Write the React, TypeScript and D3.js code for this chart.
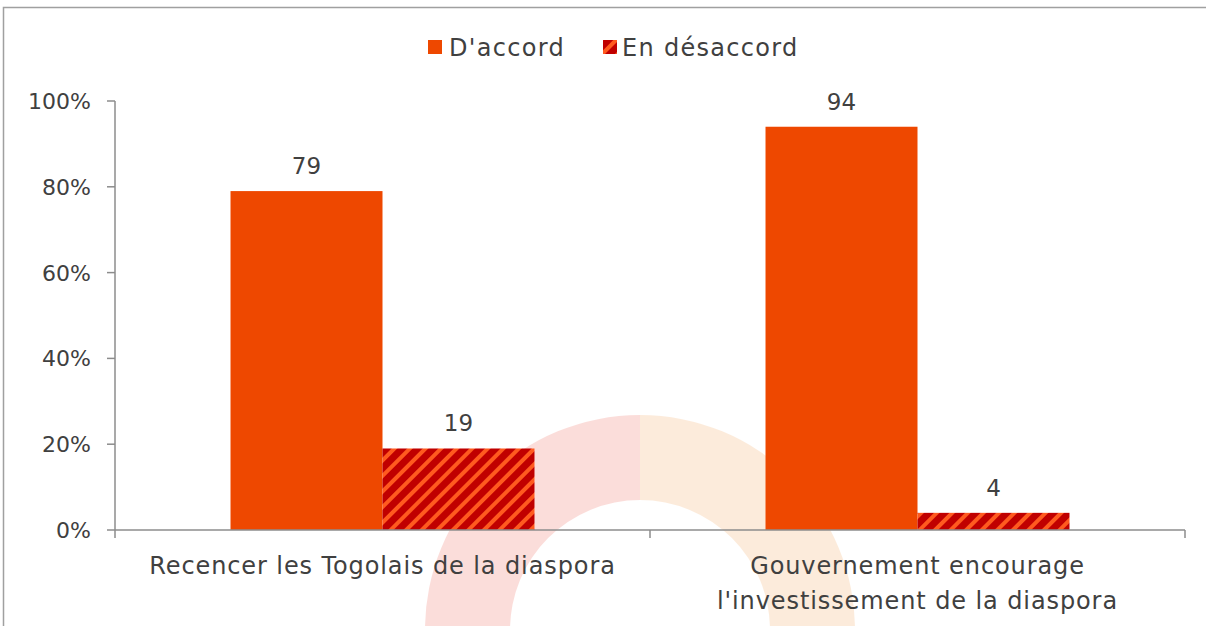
import React from "react";
import * as d3 from "d3";

const categories: string[][] = [
  ["Recencer les Togolais de la diaspora"],
  ["Gouvernement encourage", "l'investissement de la diaspora"],
];
const seriesNames = ["D'accord", "En désaccord"];
const accordValues = [79, 94];
const desaccordValues = [19, 4];
const yTicks = [0, 20, 40, 60, 80, 100];

const W = 1206;
const H = 626;
const FONT = "'DejaVu Sans', sans-serif";
const TXT = "#404040";
const AX = "#8c8c8c";
const ORANGE = "#EE4800";

export default function App() {
  const x0 = d3.scaleBand<number>().domain([0, 1]).range([115, 1185]).paddingInner(0).paddingOuter(0);
  const x1 = d3.scaleBand<number>().domain([0, 1]).range([0, x0.bandwidth()]).paddingInner(0).paddingOuter(0.76);
  const y = d3.scaleLinear().domain([0, 100]).range([530, 101]);
  const series = [accordValues, desaccordValues];
  const fills = [ORANGE, "url(#hatch)"];

  return (
    <svg width={W} height={H} style={{ position: "absolute", left: 0, top: 0, background: "#fff" }}>
      <defs>
        <pattern id="hatch" width="11" height="11" patternUnits="userSpaceOnUse" patternTransform="rotate(45)">
          <rect width="11" height="11" fill="#C00000" />
          <rect width="4" height="11" fill="#FF5A1F" />
        </pattern>
      </defs>
      {/* faint watermark */}
      <g opacity={0.2}>
        <path
          d={d3.arc()({ innerRadius: 130, outerRadius: 215, startAngle: -Math.PI / 2, endAngle: 0 }) as string}
          transform="translate(640,630)"
          fill="#F05A4A"
        />
        <path
          d={d3.arc()({ innerRadius: 130, outerRadius: 215, startAngle: 0, endAngle: Math.PI / 2 }) as string}
          transform="translate(640,630)"
          fill="#F5A050"
        />
      </g>
      {/* frame */}
      <path d={`M3.5,626 V7.5 H1206`} fill="none" stroke="#a0a0a0" strokeWidth={1.5} />

      {/* legend */}
      <g fontFamily={FONT} fontSize={24} fill={TXT} letterSpacing={1.3}>
        <rect x={428} y={40} width={14} height={14} fill={ORANGE} />
        <text x={449} y={56}>{seriesNames[0]}</text>
        <rect x={603} y={40} width={14} height={14} fill="url(#hatch)" />
        <text x={622} y={56}>{seriesNames[1]}</text>
      </g>

      {/* bars */}
      {series.map((vals, s) =>
        vals.map((v, i) => (
          <rect
            key={`${s}-${i}`}
            x={(x0(i) as number) + (x1(s) as number)}
            y={y(v)}
            width={x1.bandwidth()}
            height={y(0) - y(v)}
            fill={fills[s]}
          />
        ))
      )}
      {/* data labels */}
      <g fontFamily={FONT} fontSize={23} fill={TXT} textAnchor="middle">
        {series.map((vals, s) =>
          vals.map((v, i) => (
            <text key={`l${s}-${i}`} x={(x0(i) as number) + (x1(s) as number) + x1.bandwidth() / 2} y={y(v) - 17}>
              {v}
            </text>
          ))
        )}
      </g>

      {/* y axis */}
      <line x1={115} x2={115} y1={y(100)} y2={y(0)} stroke={AX} strokeWidth={1.5} />
      {yTicks.map((t) => (
        <g key={t}>
          <line x1={107} x2={115} y1={y(t)} y2={y(t)} stroke={AX} strokeWidth={1.5} />
          <text x={91} y={y(t) + 8} textAnchor="end" fontFamily={FONT} fontSize={22} fill={TXT}>
            {t}%
          </text>
        </g>
      ))}
      {/* x axis */}
      <line x1={115} x2={1185} y1={y(0)} y2={y(0)} stroke={AX} strokeWidth={1.5} />
      {[0, 1, 2].map((k) => {
        const xx = 115 + k * x0.bandwidth();
        return <line key={k} x1={xx} x2={xx} y1={y(0)} y2={y(0) + 8} stroke={AX} strokeWidth={1.5} />;
      })}
      <g fontFamily={FONT} fontSize={24} fill={TXT} textAnchor="middle" letterSpacing={0.9}>
        {categories.map((lines, i) => (
          <text key={i} x={(x0(i) as number) + x0.bandwidth() / 2} y={574}>
            {lines.map((ln, j) => (
              <tspan key={j} x={(x0(i) as number) + x0.bandwidth() / 2} dy={j === 0 ? 0 : 35}>
                {ln}
              </tspan>
            ))}
          </text>
        ))}
      </g>
    </svg>
  );
}
